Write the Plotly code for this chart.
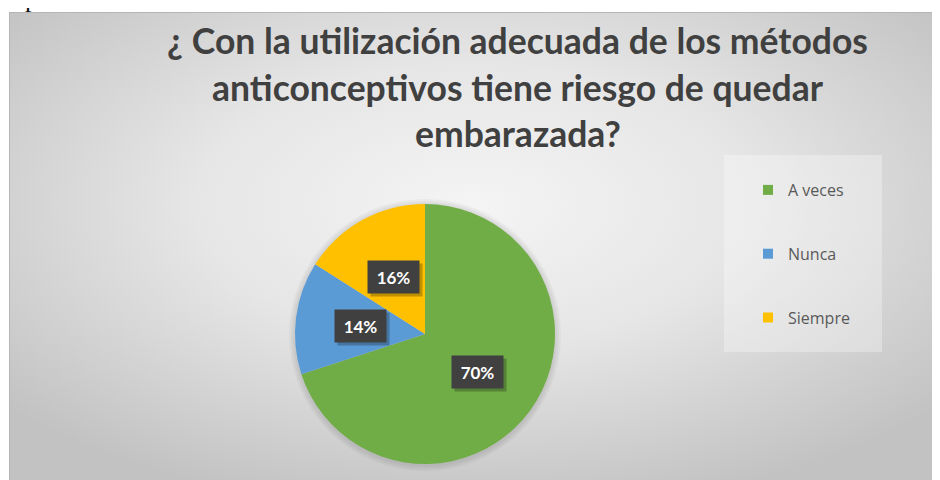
import base64, math
import plotly.graph_objects as go

# ---- data ----
categories = ["A veces", "Nunca", "Siempre"]
values = [70, 14, 16]
colors = ["#70AD47", "#5B9BD5", "#FFC000"]
title_lines = ["¿ Con la utilización adecuada de los métodos",
               "anticonceptivos tiene riesgo de quedar",
               "embarazada?"]

W, H = 940, 480
OFF = 8  # page body margin of the html page
def px(x): return (x - OFF) / W
def py(y): return 1 - (y - OFF) / H

# gradient background of the chart area (extends past the window on right/bottom)
IW, IH = 945, 480
svg = (f'<svg xmlns="http://www.w3.org/2000/svg" width="{IW}" height="{IH}">'
       '<defs><radialGradient id="g" cx="49%" cy="40%" r="65%">'
       '<stop offset="0" stop-color="#f4f4f4"/><stop offset="0.45" stop-color="#e6e6e6"/>'
       '<stop offset="1" stop-color="#c2c2c2"/></radialGradient></defs>'
       f'<rect x="0.5" y="0.5" width="{IW}" height="{IH}" fill="url(#g)" stroke="#b5b5b5" stroke-width="1"/></svg>')
src = "data:image/svg+xml;base64," + base64.b64encode(svg.encode()).decode()

# pie geometry (page pixels)
cx, cy, R = 425, 334, 130

fig = go.Figure()
fig.add_trace(go.Pie(
    labels=categories, values=values, sort=False, direction="clockwise", rotation=0,
    marker=dict(colors=colors, line=dict(width=0)), textinfo="none", hoverinfo="label+percent",
    showlegend=False,
    domain=dict(x=[px(cx - R), px(cx + R)], y=[py(cy + R), py(cy - R)]),
))

# legend entries
for i, (c, col) in enumerate(zip(categories, colors)):
    fig.add_trace(go.Scatter(x=[None], y=[None], mode="markers", name=c,
                             legendgroup=f"g{i}",
                             marker=dict(symbol="square", size=10, color=col)))

annotations = []
# data labels computed from values
total = sum(values)
cum = 0
for v in values:
    mid = (cum + v / 2) / total * 2 * math.pi
    cum += v
    lx = cx + 0.5 * R * math.sin(mid)
    ly = cy - 0.5 * R * math.cos(mid)
    txt = f"{round(v / total * 100)}%"
    common = dict(x=px(lx), y=py(ly), xref="paper", yref="paper", showarrow=False,
                  xanchor="center", yanchor="middle", width=45, height=26, borderpad=3)
    annotations.append(dict(common, text=txt, xshift=3, yshift=-3,
                            bgcolor="rgba(0,0,0,0.25)",
                            font=dict(color="rgba(0,0,0,0)", size=17, family="Lato")))
    annotations.append(dict(common, text=f"<b>{txt}</b>", bgcolor="#404040",
                            font=dict(color="white", size=17, family="Lato")))

# title lines
for t, yy in zip(title_lines, [41, 87.5, 134]):
    annotations.append(dict(x=px(517.5), y=py(yy), xref="paper", yref="paper", text=f"<b>{t}</b>",
                            showarrow=False, xanchor="center", yanchor="middle",
                            font=dict(size=35.5, color="#404040", family="Lato")))

# cropped document text at top
annotations.append(dict(x=px(0), y=py(15), xref="paper", yref="paper", text="ceptivos.",
                        showarrow=False, xanchor="left", yanchor="bottom",
                        font=dict(size=26, color="#111111", family="Liberation Serif")))

# soft shadow around the pie
shadow = [dict(type="circle", xref="paper", yref="paper",
               x0=px(cx - R - d), x1=px(cx + R + d), y0=py(cy + R + d + 1), y1=py(cy - R - d + 1),
               fillcolor="rgba(0,0,0,0.035)", line=dict(width=0), layer="below")
          for d in (2, 4, 6)]

fig.update_layout(
    width=W, height=H, margin=dict(l=0, r=0, t=0, b=0),
    paper_bgcolor="white", plot_bgcolor="rgba(0,0,0,0)",
    xaxis=dict(visible=False), yaxis=dict(visible=False),
    images=[dict(source=src, xref="paper", yref="paper", x=px(9), y=py(12),
                 sizex=IW / W, sizey=IH / H, xanchor="left", yanchor="top",
                 sizing="stretch", layer="below")],
    shapes=[dict(type="rect", xref="paper", yref="paper", x0=px(724), x1=px(882),
                 y0=py(352), y1=py(155), fillcolor="rgba(255,255,255,0.3)",
                 line=dict(width=0), layer="below")] + shadow,
    legend=dict(x=px(748), y=py(173), xanchor="left", yanchor="top",
                bgcolor="rgba(0,0,0,0)", tracegroupgap=40,
                font=dict(size=16, color="#595959", family="Open Sans")),
    annotations=annotations,
    showlegend=True,
)

fig.write_html("out.html")
